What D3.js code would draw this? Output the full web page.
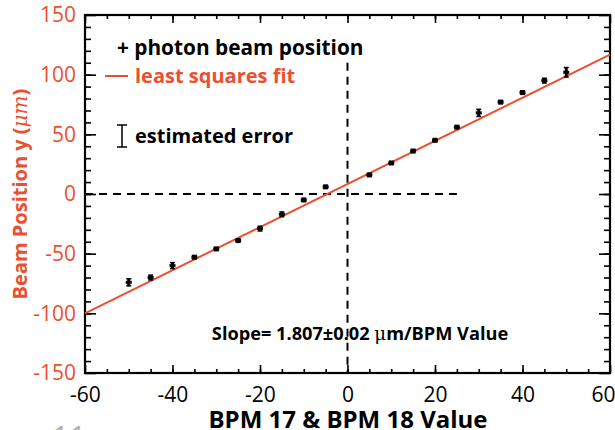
<!DOCTYPE html>
<html>
<head>
<meta charset="utf-8">
<script src="https://cdn.jsdelivr.net/npm/d3@7"></script>
<style>
    body { margin: 0; background: #fff; }
    text { font-family: "Open Sans", sans-serif; }
</style>
</head>
<body>
<script>
// BPM 17 & 18 value vs. measured photon beam position y
// chart values, read off the picture
var bpmValues = [-50, -45, -40, -35, -30, -25, -20, -15, -10, -5,
                 5, 10, 15, 20, 25, 30, 35, 40, 45, 50];
var beamY = [-74, -70, -60, -53, -46, -39, -29, -17, -5, 6,
             16, 26, 36, 45, 56, 68, 77, 85, 95, 102];
var beamErr = [3, 2, 2.5, 1.5, 1.5, 1.5, 2, 2, 1.5, 1.5,
               1.5, 1.5, 1.5, 1.5, 1.5, 3, 1.5, 1.5, 2, 4];
// least squares fit line end points
var fitX = [-60, 60];
var fitY = [-100, 116.8];
// dashed guide lines
var hGuideX = [-60, 25];
var vGuideY = [110, -150];

var xTicks = [-60, -40, -20, 0, 20, 40, 60];
var xMinor = d3.range(-55, 60, 5);
var yTicks = [-150, -100, -50, 0, 50, 100, 150];
var yMinor = d3.range(-140, 150, 10);

var red = "#ec4f2f";

var margin = {top: 15, right: 5, bottom: 57, left: 85},
    width = 615 - margin.left - margin.right,   // 525
    height = 430 - margin.top - margin.bottom;  // 358

var svg = d3.select("body").append("svg")
    .attr("width", 615)
    .attr("height", 430);

svg.append("rect").attr("width", 615).attr("height", 430).attr("fill", "#fff");

var g = svg.append("g")
    .attr("transform", "translate(" + margin.left + "," + margin.top + ")");

var x = d3.scaleLinear().domain([-60, 60]).range([0, width]);
var y = d3.scaleLinear().domain([-150, 150]).range([height, 0]);

// plain hyphen minus, like the picture
var plain = function(d) { return String(d); };

// ticks on all four sides, pointing in
function styleAxis(sel) {
    sel.select(".domain").remove();
    sel.selectAll("line").attr("stroke", "#000").attr("stroke-width", 1.6);
}

g.append("g").call(d3.axisLeft(y).tickValues(yMinor).tickSize(-6)
    .tickFormat("")).call(styleAxis);
g.append("g").call(d3.axisLeft(y).tickValues(yTicks).tickSize(-11)
    .tickPadding(9).tickFormat(plain)).call(styleAxis)
    .selectAll("text")
    .attr("fill", red)
    .style("font-size", "21px")
    .style("font-family", "'Open Sans', sans-serif");

g.append("g").attr("transform", "translate(" + width + ",0)")
    .call(d3.axisRight(y).tickValues(yMinor).tickSize(-6).tickFormat(""))
    .call(styleAxis);
g.append("g").attr("transform", "translate(" + width + ",0)")
    .call(d3.axisRight(y).tickValues(yTicks).tickSize(-11).tickFormat(""))
    .call(styleAxis);

g.append("g").attr("transform", "translate(0," + height + ")")
    .call(d3.axisBottom(x).tickValues(xMinor).tickSize(-4).tickFormat(""))
    .call(styleAxis);
var xa = g.append("g").attr("transform", "translate(0," + height + ")")
    .call(d3.axisBottom(x).tickValues(xTicks).tickSize(-8).tickPadding(14)
        .tickFormat(plain))
    .call(styleAxis);
xa.selectAll("text")
    .attr("fill", "#000")
    .style("font-size", "21px")
    .style("font-family", "'Open Sans', sans-serif");
// the last label sits inside the page edge
xa.selectAll("text").filter(function(d) { return d === 60; })
    .attr("text-anchor", "end").attr("dx", "5");

g.append("g")
    .call(d3.axisTop(x).tickValues(xMinor).tickSize(-4).tickFormat(""))
    .call(styleAxis);
g.append("g")
    .call(d3.axisTop(x).tickValues(xTicks).tickSize(-8).tickFormat(""))
    .call(styleAxis);

// frame
g.append("rect")
    .attr("width", width).attr("height", height)
    .attr("fill", "none").attr("stroke", "#000").attr("stroke-width", 2.2);

// dashed guides
g.append("line")
    .attr("x1", x(hGuideX[0])).attr("x2", x(hGuideX[1]))
    .attr("y1", y(0)).attr("y2", y(0))
    .attr("stroke", "#000").attr("stroke-width", 2)
    .attr("stroke-dasharray", "8,6");
g.append("line")
    .attr("x1", x(0)).attr("x2", x(0))
    .attr("y1", y(vGuideY[0])).attr("y2", y(vGuideY[1]))
    .attr("stroke", "#000").attr("stroke-width", 2)
    .attr("stroke-dasharray", "8,6");

// fit line
g.append("line")
    .attr("x1", x(fitX[0])).attr("y1", y(fitY[0]))
    .attr("x2", x(fitX[1])).attr("y2", y(fitY[1]))
    .attr("stroke", red).attr("stroke-width", 2);

// data points: plus + error bar
var pts = bpmValues.map(function(v, i) {
    return {x: v, y: beamY[i], e: beamErr[i]};
});
var pg = g.selectAll(".pt").data(pts).enter().append("g")
    .attr("class", "pt");
pg.append("line")
    .attr("x1", function(d) { return x(d.x); })
    .attr("x2", function(d) { return x(d.x); })
    .attr("y1", function(d) { return y(d.y + d.e); })
    .attr("y2", function(d) { return y(d.y - d.e); })
    .attr("stroke", "#000").attr("stroke-width", 3);
pg.append("line")
    .attr("x1", function(d) { return x(d.x) - 3; })
    .attr("x2", function(d) { return x(d.x) + 3; })
    .attr("y1", function(d) { return y(d.y); })
    .attr("y2", function(d) { return y(d.y); })
    .attr("stroke", "#000").attr("stroke-width", 3);
pg.append("line")
    .attr("x1", function(d) { return x(d.x) - 2.5; })
    .attr("x2", function(d) { return x(d.x) + 2.5; })
    .attr("y1", function(d) { return y(d.y + d.e); })
    .attr("y2", function(d) { return y(d.y + d.e); })
    .attr("stroke", "#000").attr("stroke-width", 1.5);
pg.append("line")
    .attr("x1", function(d) { return x(d.x) - 2.5; })
    .attr("x2", function(d) { return x(d.x) + 2.5; })
    .attr("y1", function(d) { return y(d.y - d.e); })
    .attr("y2", function(d) { return y(d.y - d.e); })
    .attr("stroke", "#000").attr("stroke-width", 1.5);

// legend
svg.append("text").attr("x", 117).attr("y", 55)
    .style("font-size", "20.8px").style("font-weight", "bold")
    .attr("fill", "#000").text("+ photon beam position");
svg.append("line").attr("x1", 105).attr("x2", 128)
    .attr("y1", 76).attr("y2", 76)
    .attr("stroke", red).attr("stroke-width", 2);
svg.append("text").attr("x", 135).attr("y", 83)
    .style("font-size", "20px").style("font-weight", "bold")
    .attr("fill", red).text("least squares fit");
var eb = svg.append("g").attr("stroke", "#000").attr("stroke-width", 1.5);
eb.append("line").attr("x1", 122).attr("x2", 122).attr("y1", 125).attr("y2", 147);
eb.append("line").attr("x1", 117).attr("x2", 127).attr("y1", 125).attr("y2", 125);
eb.append("line").attr("x1", 117).attr("x2", 127).attr("y1", 147).attr("y2", 147);
svg.append("text").attr("x", 135).attr("y", 143)
    .style("font-size", "20px").style("font-weight", "bold")
    .attr("fill", "#000").text("estimated error");

// slope annotation
var st = svg.append("text").attr("x", 360).attr("y", 340)
    .attr("text-anchor", "middle")
    .style("font-size", "18.2px").style("font-weight", "bold")
    .attr("fill", "#000");
st.append("tspan").text("Slope= 1.807\u00b10.02 ");
st.append("tspan").style("font-family", "'DejaVu Serif', serif")
    .style("font-weight", "normal").text("\u03bc");
st.append("tspan").text("m/BPM Value");

// axis titles
svg.append("text").attr("x", 348).attr("y", 428)
    .attr("text-anchor", "middle")
    .style("font-size", "24px").style("font-weight", "bold")
    .attr("fill", "#000").text("BPM 17 & BPM 18 Value");

var yt = svg.append("text")
    .attr("transform", "translate(27,194) rotate(-90)")
    .attr("text-anchor", "middle")
    .style("font-size", "20px").style("font-weight", "bold")
    .attr("fill", red);
yt.append("tspan").text("Beam Position y (");
yt.append("tspan").style("font-family", "'DejaVu Serif', serif")
    .style("font-style", "italic").style("font-weight", "normal")
    .text("\u03bcm");
yt.append("tspan").text(")");

// page number, cut at the bottom edge
svg.append("text").attr("x", 52).attr("y", 447)
    .style("font-size", "30px").attr("fill", "#b0b0b0").text("11");
</script>
</body>
</html>
